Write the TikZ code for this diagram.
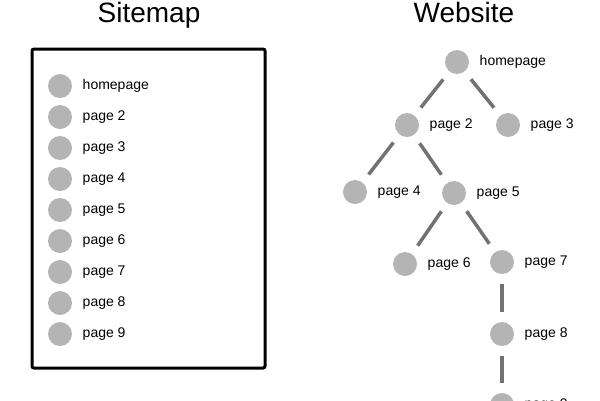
\documentclass[tikz,border=0pt]{standalone}
\usepackage{fontspec}
\setmainfont{Liberation Sans}
\definecolor{dotgray}{HTML}{B4B4B4}
\definecolor{linkgray}{HTML}{727272}
\tikzset{
every picture/.style={x=1pt, y=-1pt},
every label/.style={font=\fontsize{14}{16}\selectfont, xshift=7pt},
page/.style={circle, fill=dotgray, minimum size=24pt, inner sep=0pt},
link/.style={draw=linkgray, line width=3.5pt, shorten <=10pt, shorten >=10pt},
title/.style={anchor=base, font=\fontsize{28}{32}\selectfont}
}

\begin{document}
\begin{tikzpicture}
    \clip (0,0) rectangle (600,400);
    % sitemap list
    \node[title] (maptitle) at (149,22) {Sitemap};
    \draw[line width=3pt, rounded corners=2pt] (32,49) rectangle (265,368);
    \foreach \i/\txt in {1/homepage,2/page 2,3/page 3,4/page 4,5/page 5,6/page 6,7/page 7,8/page 8,9/page 9} {
      \pgfmathsetmacro{\ypos}{86 + 31*(\i - 1)}
      \node[page, label={right:\txt}] (s\i) at (60,\ypos) {};
    }
    % website tree
    \node[title] (sitetitle) at (464,22) {Website};
    \node[page, label={right:homepage}] (home) at (457,62) {};
    \node[page, label={right:page 2}] (p2) at (407,125) {};
    \node[page, label={right:page 3}] (p3) at (508,125) {};
    \node[page, label={right:page 4}] (p4) at (355,192) {};
    \node[page, label={right:page 5}] (p5) at (454,193) {};
    \node[page, label={right:page 6}] (p6) at (405,264) {};
    \node[page, label={right:page 7}] (p7) at (502,262) {};
    \node[page, label={right:page 8}] (p8) at (502,334) {};
    \node[page, label={right:page 9}] (p9) at (502,405) {};
    \draw[link] (home) -- (p2);
    \draw[link] (home) -- (p3);
    \draw[link] (p2) -- (p4);
    \draw[link] (p2) -- (p5);
    \draw[link] (p5) -- (p6);
    \draw[link] (p5) -- (p7);
    \draw[link] (p7) -- (p8);
    \draw[link] (p8) -- (p9);
  \end{tikzpicture}
\end{document}
